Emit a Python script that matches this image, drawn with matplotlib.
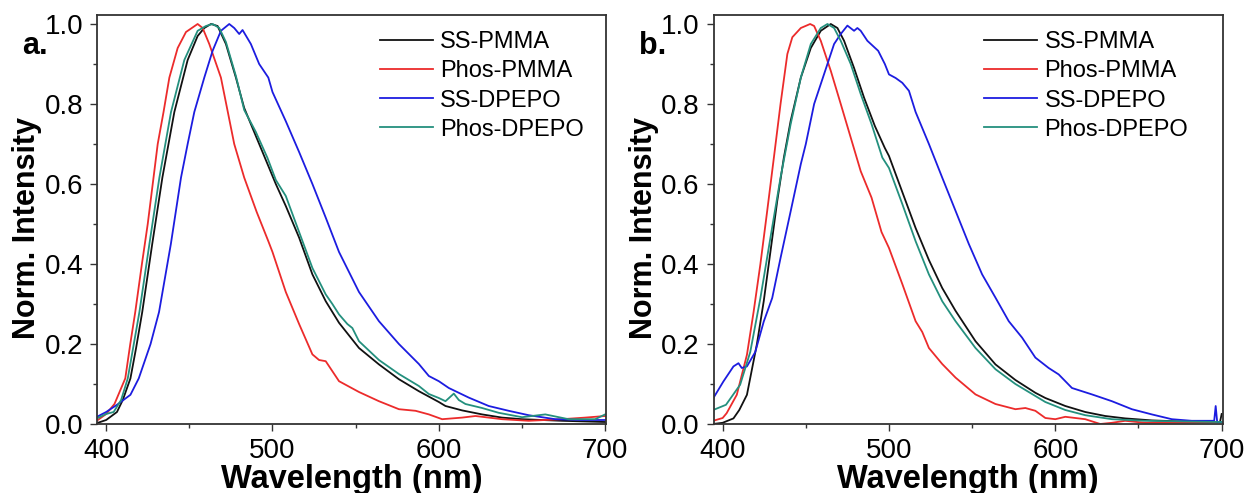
import matplotlib.pyplot as plt
from matplotlib.ticker import MultipleLocator, FormatStrFormatter

plt.rcParams['font.family'] = ['Liberation Sans', 'DejaVu Sans']

# ---- panel a ----
a_ss_pmma_wl = [395, 400, 406.5, 410, 414.6, 418, 421.7, 427.7, 433.8, 441, 449, 455, 459, 463, 467, 472,
                478, 483, 490, 497, 502, 508, 516, 524, 532, 540, 552, 564, 576, 588, 600, 604, 614, 626,
                638, 650, 674, 700]
a_ss_pmma = [0.003, 0.01, 0.03, 0.06, 0.114, 0.19, 0.28, 0.45, 0.616, 0.78, 0.91, 0.97, 0.99, 1.0, 0.995, 0.95,
             0.866, 0.79, 0.72, 0.65, 0.60, 0.545, 0.466, 0.374, 0.307, 0.253, 0.19, 0.149, 0.112, 0.082, 0.055,
             0.045, 0.034, 0.024, 0.016, 0.012, 0.008, 0.005]

a_phos_pmma_wl = [395, 400, 405, 411.5, 414.5, 417.5, 421.5, 425, 428, 431, 434.5, 438, 443, 448, 455, 458, 462,
                  469, 477, 483, 490.5, 497.5, 500, 508, 516, 524, 528, 532, 540, 552, 564, 576, 586, 594, 602,
                  614, 622, 638, 654, 674, 688, 700]
a_phos_pmma = [0.01, 0.025, 0.05, 0.114, 0.2, 0.28, 0.4, 0.5, 0.6, 0.7, 0.78, 0.866, 0.94, 0.98, 1.0, 0.99, 0.95,
               0.866, 0.70, 0.616, 0.53, 0.457, 0.43, 0.33, 0.25, 0.174, 0.16, 0.157, 0.107, 0.08, 0.057, 0.037,
               0.033, 0.024, 0.012, 0.016, 0.02, 0.012, 0.008, 0.012, 0.016, 0.02]

a_ss_dpepo_wl = [394.5, 400, 406.5, 414.6, 419.6, 426.7, 431.8, 438.9, 445, 449, 453, 459, 464, 469, 474, 477,
                 480, 482, 487, 492, 497.5, 500, 508, 516, 524, 532, 540, 552, 564, 576, 588, 594, 600, 606, 618,
                 630, 642, 654, 670, 686, 700]
a_ss_dpepo = [0.018, 0.03, 0.048, 0.073, 0.114, 0.2, 0.28, 0.45, 0.616, 0.70, 0.78, 0.866, 0.933, 0.983, 1.0, 0.99,
              0.975, 0.985, 0.95, 0.9, 0.866, 0.83, 0.757, 0.68, 0.6, 0.516, 0.43, 0.33, 0.257, 0.2, 0.15, 0.12,
              0.107, 0.09, 0.066, 0.045, 0.033, 0.022, 0.012, 0.01, 0.01]

a_phos_dpepo_wl = [395, 400, 404.5, 409, 413, 420, 426, 432, 439, 447, 455, 460, 464, 468, 472, 478, 483, 490, 497,
                   502, 508, 516, 524, 532, 536, 540, 545, 548, 552, 564, 576, 588, 594, 600, 604, 609, 612, 616,
                   626, 636, 650, 664, 678, 694, 700]
a_phos_dpepo = [0.015, 0.025, 0.03, 0.06, 0.114, 0.28, 0.45, 0.616, 0.78, 0.91, 0.983, 0.995, 1.0, 0.99, 0.955,
                0.87, 0.785, 0.73, 0.665, 0.61, 0.57, 0.48, 0.39, 0.324, 0.30, 0.274, 0.25, 0.24, 0.207, 0.16,
                0.125, 0.095, 0.075, 0.065, 0.057, 0.076, 0.06, 0.05, 0.04, 0.028, 0.017, 0.024, 0.012, 0.012, 0.024]

# ---- panel b ----
b_ss_pmma_wl = [394.3, 400, 406.5, 410, 414.6, 420.6, 424.7, 428.7, 432.8, 436.8, 440.9, 447, 453, 459, 465, 469,
                473, 479, 485, 491.5, 497.5, 500, 508, 516, 524, 532, 540, 552, 564, 576, 588, 594, 600, 606, 618,
                630, 642, 658, 678, 699, 700]
b_ss_pmma = [0.0, 0.003, 0.014, 0.035, 0.073, 0.2, 0.307, 0.43, 0.557, 0.666, 0.758, 0.866, 0.94, 0.983, 1.0, 0.99,
             0.958, 0.89, 0.816, 0.745, 0.69, 0.67, 0.58, 0.49, 0.41, 0.34, 0.283, 0.207, 0.149, 0.11, 0.078,
             0.065, 0.055, 0.045, 0.03, 0.02, 0.014, 0.009, 0.006, 0.005, 0.025]

b_phos_pmma_wl = [394.3, 400, 402.4, 408.5, 414.6, 418.6, 422.7, 426.7, 430.8, 434.8, 438.9, 441.9, 447, 452.6,
                  455, 459, 465, 471, 477, 483, 489.5, 495.5, 500, 508, 516, 520, 524, 532, 540, 552, 564, 576,
                  582, 588, 594, 600, 606, 618, 627, 634, 642, 654, 674, 700]
b_phos_pmma = [0.008, 0.015, 0.027, 0.073, 0.173, 0.28, 0.4, 0.53, 0.666, 0.8, 0.925, 0.967, 0.99, 1.0, 0.995,
               0.958, 0.883, 0.8, 0.716, 0.632, 0.566, 0.48, 0.44, 0.35, 0.257, 0.23, 0.19, 0.15, 0.116, 0.074,
               0.05, 0.037, 0.04, 0.033, 0.015, 0.012, 0.018, 0.012, 0.0, 0.003, 0.008, 0.003, 0.003, 0.005]

b_ss_dpepo_wl = [394.3, 400.4, 406.5, 409.5, 411.5, 414.6, 419.6, 424.7, 429.8, 434.8, 440.9, 447, 450, 455, 461,
                 467, 471, 475, 479, 481, 483, 487, 493.5, 497.5, 500, 504, 508, 512, 516, 524, 532, 540, 548, 556,
                 564, 572, 580, 588, 596, 602, 610, 622, 634, 646, 658, 670, 682, 692, 695.5, 696.4, 697.3, 700]
b_ss_dpepo = [0.064, 0.106, 0.144, 0.152, 0.14, 0.144, 0.18, 0.256, 0.315, 0.415, 0.532, 0.65, 0.7, 0.8, 0.875,
              0.95, 0.975, 0.996, 0.983, 0.99, 0.983, 0.958, 0.933, 0.9, 0.874, 0.865, 0.853, 0.833, 0.78, 0.7,
              0.616, 0.533, 0.45, 0.374, 0.316, 0.257, 0.216, 0.166, 0.14, 0.124, 0.09, 0.074, 0.057, 0.037,
              0.024, 0.012, 0.008, 0.008, 0.008, 0.045, 0.005, 0.005]

b_phos_dpepo_wl = [394.3, 402, 410.5, 416.6, 422.7, 428.7, 434.8, 440.9, 447, 453, 459, 463, 467, 471, 477, 483,
                   489.5, 496, 500, 508, 516, 524, 532, 540, 552, 564, 576, 588, 594, 600, 606, 618, 634, 654, 700]
b_phos_dpepo = [0.035, 0.048, 0.098, 0.18, 0.315, 0.465, 0.616, 0.75, 0.866, 0.95, 0.99, 1.0, 0.99, 0.958, 0.9,
                0.825, 0.75, 0.666, 0.64, 0.55, 0.457, 0.374, 0.307, 0.257, 0.19, 0.137, 0.1, 0.07, 0.055, 0.045,
                0.035, 0.022, 0.012, 0.008, 0.005]

labels = ['SS-PMMA', 'Phos-PMMA', 'SS-DPEPO', 'Phos-DPEPO']
colors = ['#111111', '#ec2b2b', '#1c1ce0', '#24907e']

panels = [
    ('a.', [(a_ss_pmma_wl, a_ss_pmma), (a_phos_pmma_wl, a_phos_pmma),
            (a_ss_dpepo_wl, a_ss_dpepo), (a_phos_dpepo_wl, a_phos_dpepo)]),
    ('b.', [(b_ss_pmma_wl, b_ss_pmma), (b_phos_pmma_wl, b_phos_pmma),
            (b_ss_dpepo_wl, b_ss_dpepo), (b_phos_dpepo_wl, b_phos_dpepo)]),
]

fig = plt.figure(figsize=(12.49, 4.93), dpi=100)
ax_lefts = [97 / 1249, 713.5 / 1249]
legend_x = [0.556, 0.532]

for i, (tag, series) in enumerate(panels):
    ax = fig.add_axes([ax_lefts[i], 69 / 493, 509 / 1249, 409 / 493])
    for (wl, y), lab, c in zip(series, labels, colors):
        ax.plot(wl, y, color=c, lw=1.3, label=lab)

    ax.set_xlim(394.5, 700.5)
    ax.set_ylim(0, 1.0225)
    ax.xaxis.set_major_locator(MultipleLocator(100))
    ax.xaxis.set_minor_locator(MultipleLocator(50))
    ax.yaxis.set_major_locator(MultipleLocator(0.2))
    ax.yaxis.set_minor_locator(MultipleLocator(0.1))
    ax.yaxis.set_major_formatter(FormatStrFormatter('%.1f'))
    ax.tick_params(which='both', direction='out', width=1.0, color='#333333', labelsize=20, pad=5)
    ax.tick_params(which='major', length=5)
    ax.tick_params(which='minor', length=3)
    for s in ax.spines.values():
        s.set_linewidth(1.3)
        s.set_color('#333333')

    ax.set_xlabel('Wavelength (nm)', fontsize=23.5, fontweight='bold')
    ax.xaxis.set_label_coords(0.5, -0.135)
    ax.xaxis.label.set_va('center')
    ax.set_ylabel('Norm. Intensity', fontsize=22, fontweight='bold')
    ax.yaxis.set_label_coords(-0.137, 0.48)
    ax.yaxis.label.set_va('center')

    ax.text(-0.147, 0.905, tag, transform=ax.transAxes, fontsize=22, fontweight='bold', ha='left', va='baseline')

    ax.legend(loc='upper left', bbox_to_anchor=(legend_x[i], 0.96), frameon=False, fontsize=17,
              handlelength=2.25, handletextpad=0.3, labelspacing=0.3, borderpad=0, borderaxespad=0)

plt.savefig('out.png', dpi=100)
